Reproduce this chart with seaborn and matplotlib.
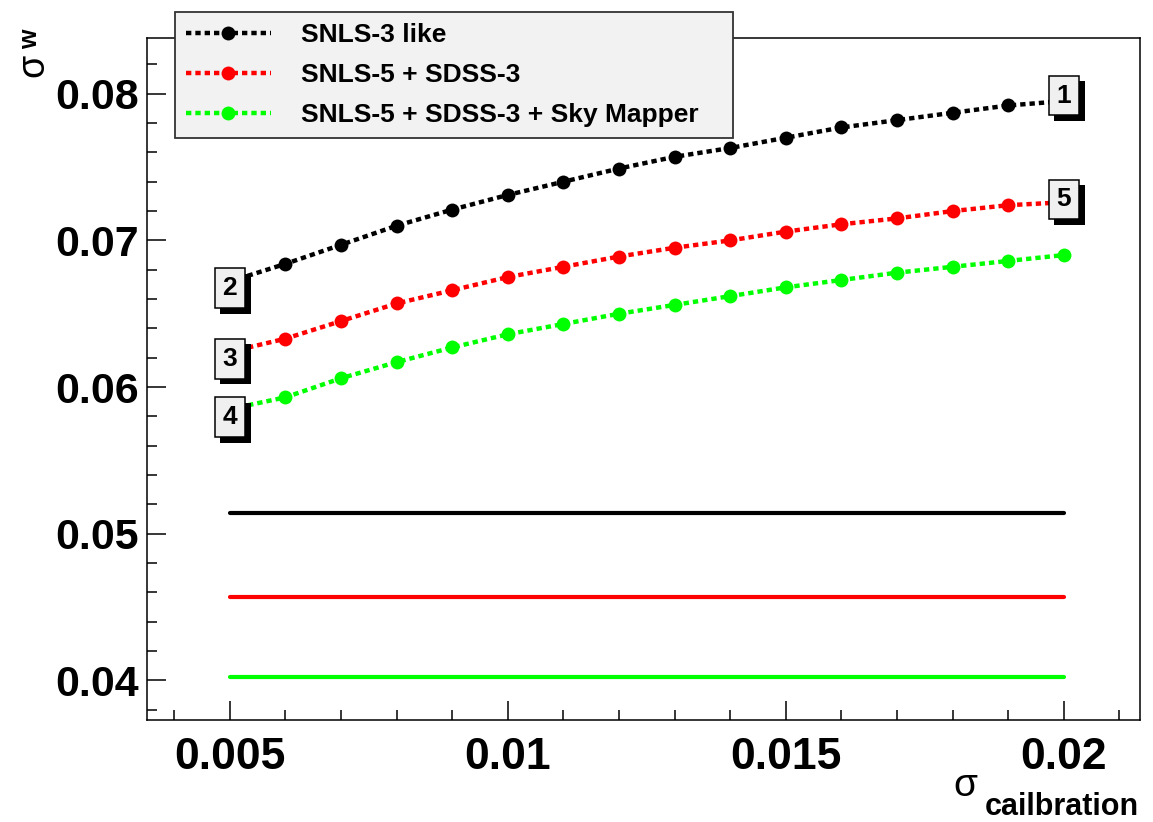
import matplotlib
matplotlib.use("Agg")
import numpy as np
import pandas as pd
import seaborn as sns
import matplotlib.pyplot as plt
from matplotlib.ticker import MultipleLocator, FixedLocator
import matplotlib.patheffects as pe
from matplotlib.lines import Line2D

# ---------------- data ----------------
calibration = [0.005, 0.006, 0.007, 0.008, 0.009, 0.010, 0.011, 0.012,
               0.013, 0.014, 0.015, 0.016, 0.017, 0.018, 0.019, 0.020]
snls3_like = [0.0672, 0.0684, 0.0697, 0.0710, 0.0721, 0.0731, 0.0740, 0.0749,
              0.0757, 0.0763, 0.0770, 0.0777, 0.0782, 0.0787, 0.0792, 0.0795]
snls5_sdss3 = [0.0624, 0.0633, 0.0645, 0.0657, 0.0666, 0.0675, 0.0682, 0.0689,
               0.0695, 0.0700, 0.0706, 0.0711, 0.0715, 0.0720, 0.0724, 0.0726]
snls5_sdss3_sky = [0.0585, 0.0593, 0.0606, 0.0617, 0.0627, 0.0636, 0.0643, 0.0650,
                   0.0656, 0.0662, 0.0668, 0.0673, 0.0678, 0.0682, 0.0686, 0.0690]
no_calib_levels = [0.0514, 0.0457, 0.0402]
series_names = ["SNLS-3 like", "SNLS-5 + SDSS-3", "SNLS-5 + SDSS-3 + Sky Mapper"]
series_colors = ["#000000", "#ff0000", "#00ff00"]
x_ticks = [0.005, 0.01, 0.015, 0.02]
x_tick_labels = ["0.005", "0.01", "0.015", "0.02"]
y_ticks = [0.04, 0.05, 0.06, 0.07, 0.08]
y_tick_labels = ["0.04", "0.05", "0.06", "0.07", "0.08"]

# --------------- style ----------------
sns.set_theme(style="ticks")
plt.rcParams['font.family'] = ['Liberation Sans', 'DejaVu Sans']
plt.rcParams['text.color'] = 'black'
plt.rcParams['xtick.color'] = 'black'
plt.rcParams['ytick.color'] = 'black'
plt.rcParams['xtick.labelcolor'] = 'black'
plt.rcParams['ytick.labelcolor'] = 'black'

W, H = 1153, 822
fig = plt.figure(figsize=(W / 100, H / 100), dpi=100)
ax = fig.add_axes([147 / W, 1 - 720 / H, (1140 - 147) / W, (720 - 38) / H])

series_values = [snls3_like, snls5_sdss3, snls5_sdss3_sky]
frames = []
for name, vals in zip(series_names, series_values):
    frames.append(pd.DataFrame({"calib": calibration, "sigma_w": vals, "series": name}))
df = pd.concat(frames, ignore_index=True)

dot_style = (0, (1.2, 0.9))
for name, color in zip(series_names, series_colors):
    sub = df[df["series"] == name]
    sns.lineplot(data=sub, x="calib", y="sigma_w", ax=ax, color=color,
                 linestyle=dot_style, linewidth=3.2, marker="o", markersize=10,
                 markeredgewidth=0, legend=False, zorder=3)

for level, color in zip(no_calib_levels, series_colors):
    flat = pd.DataFrame({"calib": [calibration[0], calibration[-1]], "sigma_w": [level, level]})
    sns.lineplot(data=flat, x="calib", y="sigma_w", ax=ax, color=color,
                 linewidth=3.0, legend=False, zorder=3)

ax.set_xlim(0.00351, 0.02137)
ax.set_ylim(0.0373, 0.0838)

ax.xaxis.set_major_locator(FixedLocator(x_ticks))
ax.yaxis.set_major_locator(FixedLocator(y_ticks))
ax.set_xticklabels(x_tick_labels)
ax.set_yticklabels(y_tick_labels)
ax.xaxis.set_minor_locator(MultipleLocator(0.001))
ax.yaxis.set_minor_locator(MultipleLocator(0.002))
ax.tick_params(axis="both", which="major", direction="in", length=14, width=1.1,
               top=False, right=False, color="black", labelcolor="black")
ax.tick_params(axis="both", which="minor", direction="in", length=7, width=1.1,
               top=False, right=False, color="black")
ax.tick_params(axis="x", which="major", pad=12)
ax.tick_params(axis="y", which="major", pad=6)
for lab in ax.get_xticklabels():
    lab.set_fontweight("bold")
    lab.set_fontsize(32)
for lab in ax.get_yticklabels():
    lab.set_fontweight("bold")
    lab.set_fontsize(31)
for sp in ax.spines.values():
    sp.set_visible(True)
    sp.set_linewidth(1.1)
    sp.set_color("black")
ax.set_xlabel("")
ax.set_ylabel("")

# axis titles
fig.text(33 / W, 1 - 65 / H, "σ", rotation=90, fontsize=27, ha="center", va="center",
         color="black")
fig.text(30 / W, 1 - 39 / H, "w", rotation=90, fontsize=18, fontweight="bold",
         ha="center", va="center", color="black")
fig.text(965 / W, 1 - 786 / H, "σ", fontsize=28, ha="center", va="center", color="black")
fig.text(985 / W, 1 - 807 / H, "cailbration", fontsize=22, fontweight="bold",
         ha="left", va="center", color="black")

# numbered boxes
box_specs = [("1", 0, -1, 4), ("5", 1, -1, 2), ("2", 0, 0, -5), ("3", 1, 0, -5), ("4", 2, 0, -6)]
for text, s_idx, p_idx, dy in box_specs:
    vals = series_values[s_idx]
    t = ax.annotate(text, xy=(calibration[p_idx], vals[p_idx]), xytext=(0, dy),
                    textcoords="offset points", ha="center", va="center",
                    fontsize=19, fontweight="bold", zorder=6, color="black",
                    bbox=dict(boxstyle="square,pad=0.3", fc="#f0f0f0", ec="black", lw=1.1))
    t.get_bbox_patch().set_path_effects([
        pe.SimplePatchShadow(offset=(4, -4), shadow_rgbFace="black", alpha=1.0),
        pe.Normal()])

# legend
handles = [Line2D([], [], color=c, linestyle=dot_style, linewidth=3.2, marker="o",
                  markersize=10, markeredgewidth=0) for c in series_colors]
leg = ax.legend(handles, series_names, loc="upper left",
                bbox_to_anchor=(175 / W, 1 - 12 / H, (733 - 175) / W, 0.0),
                bbox_transform=fig.transFigure, mode="expand", borderaxespad=0,
                prop={"weight": "bold", "size": 19}, handlelength=3.2,
                handletextpad=1.15, labelspacing=0.6, borderpad=0.42,
                fancybox=False, framealpha=1, facecolor="#f2f2f2", edgecolor="#333333")
leg.get_frame().set_linewidth(1.3)
for txt in leg.get_texts():
    txt.set_color("black")
leg.set_zorder(10)

fig.savefig("out.png", dpi=100)
